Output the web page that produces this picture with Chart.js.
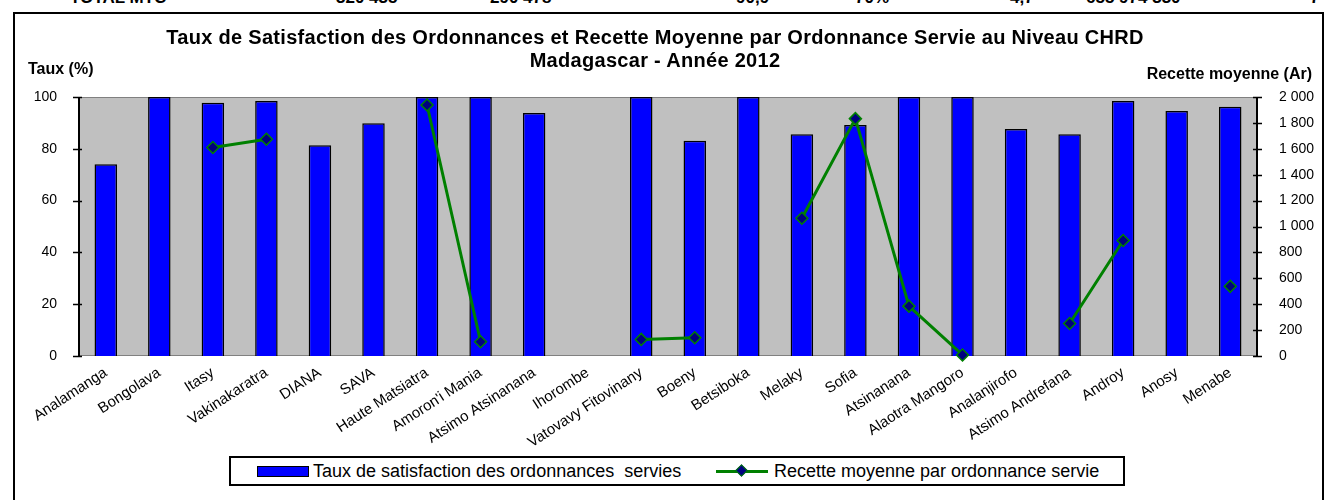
<!DOCTYPE html>
<html>
<head>
<meta charset="utf-8">
<script src="https://cdn.jsdelivr.net/npm/chart.js@4/dist/chart.umd.min.js"></script>
<style>
  html, body { margin: 0; padding: 0; background: #fff; }
  body { width: 1329px; height: 500px; position: relative; overflow: hidden; font-family: "Liberation Sans", Arial, sans-serif; }
  #frame { position: absolute; left: 13px; top: 12px; width: 1311px; height: 520px; border: 2px solid #000; box-sizing: border-box; }
  #c { position: absolute; left: 0; top: 0; }
  .t { position: absolute; white-space: nowrap; color: #000; }
  .top { top: -12px; font-weight: bold; font-size: 17px; }
  #legend { position: absolute; left: 229px; top: 456px; width: 896px; height: 30px; border: 2px solid #000; box-sizing: border-box; background: #fff; font-size: 18px; }
  .sw { position: absolute; top: 8px; width: 50px; height: 9px; background: #0000ff; border: 1.5px solid #000; }
  .ln { position: absolute; top: 12px; width: 52px; height: 3px; background: #008000; }
  .dm { position: absolute; top: 8px; width: 7px; height: 7px; background: #000080; border: 1.5px solid #008000; transform: rotate(45deg); }
</style>
</head>
<body>
<div class="t top" style="left:70px">TOTAL MTC</div>
<div class="t top" style="left:336px">320 435</div>
<div class="t top" style="left:490px">290 478</div>
<div class="t top" style="left:736px">90,9</div>
<div class="t top" style="left:855px">70%</div>
<div class="t top" style="left:1010px">4,7</div>
<div class="t top" style="left:1086px">655 974 330</div>
<div class="t top" style="left:1310px">7</div>
<div id="frame"></div>
<canvas id="c" width="1329" height="500"></canvas>
<div class="t" style="left:0;width:1310px;top:26px;text-align:center;font-weight:bold;font-size:20px;line-height:23px;letter-spacing:0.3px;">Taux de Satisfaction des Ordonnances et Recette Moyenne par Ordonnance Servie au Niveau CHRD<br>Madagascar - Année 2012</div>
<div class="t" style="left:28px;top:60px;font-weight:bold;font-size:16px;">Taux (%)</div>
<div class="t" style="right:17px;top:65px;font-weight:bold;font-size:16px;">Recette moyenne (Ar)</div>
<div id="legend">
  <div class="sw" style="left:26px"></div>
  <div class="t" style="left:82px;top:3px">Taux de satisfaction des ordonnances&nbsp; servies</div>
  <div class="ln" style="left:485px"></div>
  <div class="dm" style="left:506px"></div>
  <div class="t" style="left:543px;top:3px">Recette moyenne par ordonnance servie</div>
</div>
<script>
const categories = ["Analamanga","Bongolava","Itasy","Vakinakaratra","DIANA","SAVA","Haute Matsiatra","Amoron'i Mania","Atsimo Atsinanana","Ihorombe","Vatovavy Fitovinany","Boeny","Betsiboka","Melaky","Sofia","Atsinanana","Alaotra Mangoro","Analanjirofo","Atsimo Andrefana","Androy","Anosy","Menabe"];
const tauxSatisfaction = [74, 100, 97.8, 98.5, 81.4, 89.9, 100, 100, 93.8, null, 100, 83.1, 100, 85.6, 89.2, 100, 100, 87.6, 85.6, 98.5, 94.6, 96.2];
const recetteMoyenne = [null, null, 1610, 1674, null, null, 1938, 110, null, null, 128, 141, null, 1064, 1833, 385, 8, null, 251, 892, null, 538];
const leftTicks = [0, 20, 40, 60, 80, 100];
const rightTicks = [0, 200, 400, 600, 800, 1000, 1200, 1400, 1600, 1800, 2000];

const FONT = "'Liberation Sans', Arial, sans-serif";

const bgPlugin = {
  id: 'bg',
  beforeDatasetsDraw(chart) {
    const {ctx, chartArea: a} = chart;
    ctx.save();
    ctx.fillStyle = '#c0c0c0';
    ctx.fillRect(a.left, a.top, a.right - a.left, a.bottom - a.top);
    ctx.strokeStyle = '#808080';
    ctx.lineWidth = 1;
    ctx.strokeRect(a.left + 0.5, a.top + 0.5, a.right - a.left - 1, a.bottom - a.top - 1);
    ctx.restore();
  },
  afterDatasetsDraw(chart) {
    const {ctx, chartArea: a, scales} = chart;
    ctx.save();
    ctx.strokeStyle = '#000';
    ctx.lineWidth = 2;
    ctx.beginPath();
    ctx.moveTo(a.left, a.top); ctx.lineTo(a.left, a.bottom);
    ctx.moveTo(a.right, a.top); ctx.lineTo(a.right, a.bottom);
    ctx.stroke();
    ctx.lineWidth = 1.5;
    ctx.beginPath();
    scales.y.ticks.forEach(t => {
      const y = Math.round(scales.y.getPixelForValue(t.value)) + 0.5;
      ctx.moveTo(a.left - 6, y); ctx.lineTo(a.left + 3, y);
    });
    scales.y1.ticks.forEach(t => {
      const y = Math.round(scales.y1.getPixelForValue(t.value)) + 0.5;
      ctx.moveTo(a.right - 4, y); ctx.lineTo(a.right + 5, y);
    });
    ctx.stroke();
    ctx.restore();
  }
};

new Chart(document.getElementById('c'), {
  data: {
    labels: categories,
    datasets: [
      {
        type: 'line',
        label: 'Recette moyenne par ordonnance servie',
        data: recetteMoyenne,
        yAxisID: 'y1',
        order: 0,
        borderColor: '#008000',
        borderWidth: 3,
        pointStyle: 'rectRot',
        pointRadius: 6,
        pointBackgroundColor: '#000080',
        pointBorderColor: '#008000',
        pointBorderWidth: 1.5,
        spanGaps: false,
        clip: false,
        tension: 0
      },
      {
        type: 'bar',
        label: 'Taux de satisfaction des ordonnances servies',
        data: tauxSatisfaction,
        yAxisID: 'y',
        order: 1,
        backgroundColor: '#0000ff',
        borderColor: '#000',
        borderWidth: 1.5,
        categoryPercentage: 1,
        barPercentage: 0.42
      }
    ]
  },
  options: {
    responsive: false,
    animation: false,
    events: [],
    layout: { padding: { top: 97, left: 0, right: 0, bottom: 0 } },
    plugins: { legend: { display: false }, title: { display: false }, tooltip: { enabled: false } },
    scales: {
      x: {
        grid: { display: false, drawTicks: false },
        border: { display: false },
        ticks: {
          autoSkip: false, minRotation: 33, maxRotation: 33, padding: 8,
          color: '#000', font: { family: FONT, size: 15 }
        },
        afterFit(s) { s.height = 144; }
      },
      y: {
        position: 'left', min: 0, max: 100,
        afterBuildTicks(s) { s.ticks = leftTicks.map(v => ({value: v})); },
        grid: { display: false, drawTicks: false },
        border: { display: false },
        ticks: { padding: 22, color: '#000', font: { family: FONT, size: 14 } },
        afterFit(s) { s.width = 79; }
      },
      y1: {
        position: 'right', min: 0, max: 2000,
        afterBuildTicks(s) { s.ticks = rightTicks.map(v => ({value: v})); },
        grid: { display: false, drawTicks: false },
        border: { display: false },
        ticks: {
          padding: 22, color: '#000', font: { family: FONT, size: 14 },
          callback: v => String(v).replace(/\B(?=(\d{3})+(?!\d))/g, ' ')
        },
        afterFit(s) { s.width = 72; }
      }
    }
  },
  plugins: [bgPlugin]
});
</script>
</body>
</html>
